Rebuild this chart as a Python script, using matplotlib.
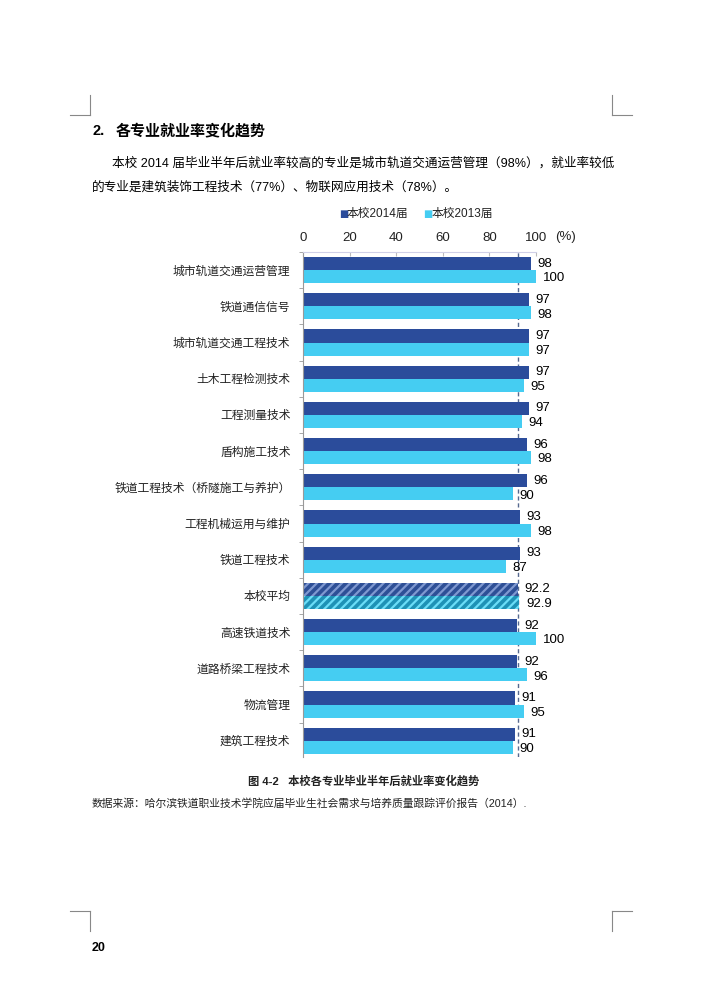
import matplotlib.pyplot as plt
import numpy as np

plt.rcParams['font.family'] = ['Liberation Sans', 'Noto Sans CJK SC', 'DejaVu Sans']
plt.rcParams['hatch.linewidth'] = 1.6

majors = ['城市轨道交通运营管理', '铁道通信信号', '城市轨道交通工程技术', '土木工程检测技术',
          '工程测量技术', '盾构施工技术', '铁道工程技术（桥隧施工与养护）', '工程机械运用与维护',
          '铁道工程技术', '本校平均', '高速铁道技术', '道路桥梁工程技术', '物流管理', '建筑工程技术']
rate_2014 = [98, 97, 97, 97, 97, 96, 96, 93, 93, 92.2, 92, 92, 91, 91]
rate_2013 = [100, 98, 97, 95, 94, 98, 90, 98, 87, 92.9, 100, 96, 95, 90]
label_2014 = ['98', '97', '97', '97', '97', '96', '96', '93', '93', '92.2', '92', '92', '91', '91']
label_2013 = ['100', '98', '97', '95', '94', '98', '90', '98', '87', '92.9', '100', '96', '95', '90']
avg_name = '本校平均'
xticks = [0, 20, 40, 60, 80, 100]

dark = '#2B4C9B'
light = '#45CDF2'
txt = '#222222'

fig = plt.figure(figsize=(7.11, 10.05), dpi=100)

# page text
fig.text(92/711, 1-131/1005, '2.', fontsize=10.5, fontweight='bold', va='center', color='black')
fig.text(116/711, 1-131/1005, '各专业就业率变化趋势', fontsize=10.8, fontweight='bold', va='center', color='black')
fig.text(112/711, 1-163/1005, '本校 2014 届毕业半年后就业率较高的专业是城市轨道交通运营管理（98%），就业率较低',
         fontsize=9.1, va='center', color='black')
fig.text(92/711, 1-188/1005, '的专业是建筑装饰工程技术（77%）、物联网应用技术（78%）。',
         fontsize=9.1, va='center', color='black')
fig.text(364/711, 1-781/1005, '图 4-2   本校各专业毕业半年后就业率变化趋势', fontsize=8.1,
         fontweight='bold', ha='center', va='center', color=txt)
fig.text(92/711, 1-803/1005, '数据来源：哈尔滨铁道职业技术学院应届毕业生社会需求与培养质量跟踪评价报告（2014）.',
         fontsize=7.75, va='center', color=txt)
fig.text(92/711, 1-948/1005, '20', fontsize=9, fontweight='bold', va='center', color='black')

# crop marks
for x0, x1, y0, y1 in [(70, 90, 115, 115), (90, 90, 95, 115), (612, 632, 115, 115), (612, 612, 95, 115),
                       (70, 90, 911, 911), (90, 90, 911, 931), (612, 632, 911, 911), (612, 612, 911, 931)]:
    fig.add_artist(plt.Line2D([x0/711, x1/711], [1-y0/1005, 1-y1/1005], color='#888888', lw=0.8))

ax = fig.add_axes([303/711, 1-757/1005, 233/711, 505/1005])
y = np.arange(len(majors))
h = 0.36
for i in range(len(majors)):
    if majors[i] == avg_name:
        ax.barh(y[i] - h/2, rate_2014[i], height=h, color='#2E4F96', edgecolor='#7F98D0',
                hatch='////', linewidth=0)
        ax.barh(y[i] + h/2, rate_2013[i], height=h, color='#1E92B6', edgecolor='#6BDDF7',
                hatch='////', linewidth=0)
    else:
        ax.barh(y[i] - h/2, rate_2014[i], height=h, color=dark)
        ax.barh(y[i] + h/2, rate_2013[i], height=h, color=light)
    ax.text(rate_2014[i] + 2.8, y[i] - h/2, label_2014[i], fontsize=9.5, va='center', ha='left', color='black')
    ax.text(rate_2013[i] + 2.8, y[i] + h/2 + 0.05, label_2013[i], fontsize=9.5, va='center', ha='left', color='black')

avg_i = majors.index(avg_name)
ax.axvline(rate_2014[avg_i], color='#56698F', lw=1.0, ls=(0, (3, 2)), zorder=0.5)

ax.set_xlim(0, 100)
ax.set_ylim(13.45, -0.5)
ax.set_yticks(y)
ax.set_yticklabels(majors, fontsize=8.5, color=txt)
ax.set_yticks(np.arange(-0.5, 13.5, 1), minor=True)
ax.tick_params(axis='y', which='major', length=0, pad=9)
ax.tick_params(axis='y', which='minor', length=3, color='#999999', direction='out')
ax.xaxis.tick_top()
ax.set_xticks(xticks)
ax.set_xticklabels([str(t) for t in xticks], fontsize=9.5, color=txt)
ax.tick_params(axis='x', length=3, direction='in', color='#bbbbbb', pad=6)
ax.text(565/711, 1-237/1005, '(%)', transform=fig.transFigure, fontsize=9.5, color=txt, va='center', ha='center')
for s in ['right', 'bottom']:
    ax.spines[s].set_visible(False)
ax.spines['left'].set_color('#999999')
ax.spines['top'].set_color('#d0d0e8')

# legend
fig.text(339/711, 1-214/1005, '■', color=dark, fontsize=7, va='center', family='DejaVu Sans')
fig.text(347/711, 1-214/1005, '本校2014届', color=txt, fontsize=8.5, va='center')
fig.text(423/711, 1-214/1005, '■', color=light, fontsize=7, va='center', family='DejaVu Sans')
fig.text(432/711, 1-214/1005, '本校2013届', color=txt, fontsize=8.5, va='center')

fig.savefig('out.png', dpi=100)
